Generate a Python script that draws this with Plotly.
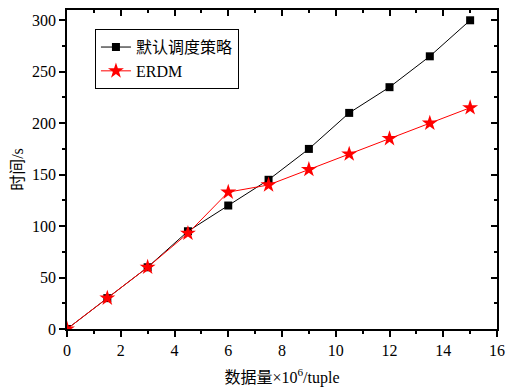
import plotly.graph_objects as go

x_vals = [0, 1.5, 3, 4.5, 6, 7.5, 9, 10.5, 12, 13.5, 15]
default_vals = [0, 30, 60, 95, 120, 145, 175, 210, 235, 265, 300]
erdm_vals = [0, 30, 60, 93, 133, 140, 155, 170, 185, 200, 215]
series_names = ["默认调度策略", "ERDM"]
x_title = "数据量×10<sup>6</sup>/tuple"
y_title = "时间/s"

font_main = "Liberation Serif, Noto Sans CJK SC"

fig = go.Figure()
fig.add_trace(go.Scatter(x=x_vals, y=default_vals, mode="lines+markers", name=series_names[0],
                         line=dict(color="black", width=1),
                         marker=dict(symbol="square", size=8, color="black")))
fig.add_trace(go.Scatter(x=x_vals, y=erdm_vals, mode="lines+markers", name=series_names[1],
                         line=dict(color="red", width=1),
                         marker=dict(symbol="star", size=12, color="red")))

common = dict(showgrid=False, zeroline=False, showline=True, linecolor="black", linewidth=1.5,
              tickcolor="black", tickwidth=1.5, automargin=False)

fig.update_layout(
    width=506, height=390,
    margin=dict(l=67, r=9, t=10, b=61),
    paper_bgcolor="white", plot_bgcolor="white",
    font=dict(family=font_main, size=16, color="black"),
    showlegend=True,
    legend=dict(x=0.065, y=0.94, xanchor="left", yanchor="top",
                bordercolor="black", borderwidth=1, bgcolor="white",
                font=dict(size=16, family=font_main), tracegroupgap=0, itemwidth=30),
    xaxis=dict(range=[0, 16], dtick=2, ticks="outside", ticklen=6,
               minor=dict(dtick=1, ticks="outside", ticklen=3, tickcolor="black", tickwidth=1.5),
               title=dict(text=x_title, standoff=14, font=dict(size=16)), **common),
    yaxis=dict(range=[0, 310], tickvals=[0, 50, 100, 150, 200, 250, 300], ticks="outside", ticklen=6,
               minor=dict(tickvals=[25, 75, 125, 175, 225, 275], ticks="outside", ticklen=3,
                          tickcolor="black", tickwidth=1.5),
               title=dict(text=y_title, standoff=4, font=dict(size=16)), **common),
    xaxis2=dict(range=[0, 16], dtick=2, ticks="inside", ticklen=6, overlaying="x", side="top",
                showticklabels=False,
                minor=dict(dtick=1, ticks="inside", ticklen=3, tickcolor="black", tickwidth=1.5), **common),
    yaxis2=dict(range=[0, 310], tickvals=[0, 50, 100, 150, 200, 250, 300], ticks="inside", ticklen=6,
                overlaying="y", side="right", showticklabels=False,
                minor=dict(tickvals=[25, 75, 125, 175, 225, 275], ticks="inside", ticklen=3,
                           tickcolor="black", tickwidth=1.5), **common),
)
fig.add_trace(go.Scatter(x=[None], y=[None], xaxis="x2", yaxis="y2", showlegend=False, hoverinfo="skip"))

fig.write_html("out.html")
